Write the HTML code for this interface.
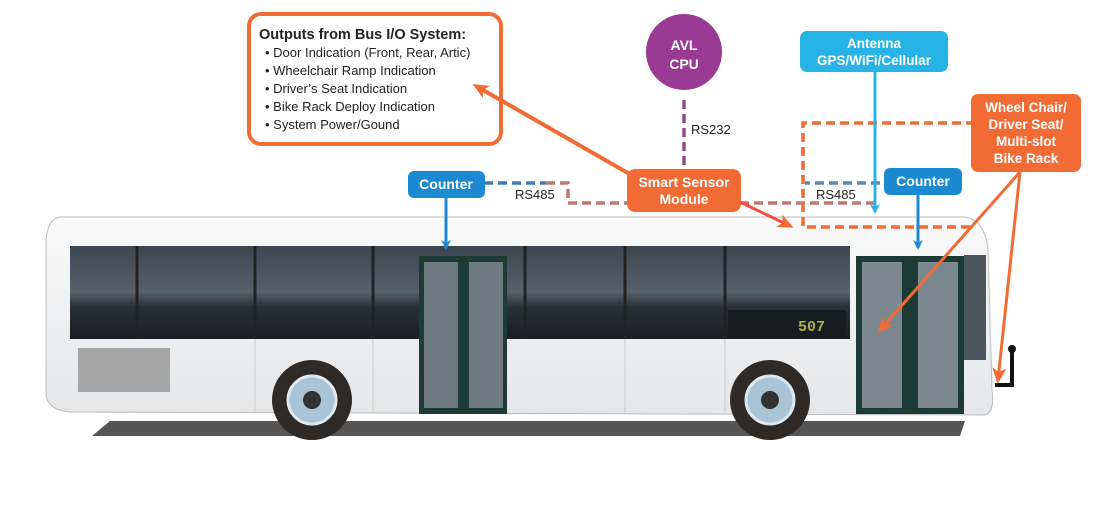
<!DOCTYPE html>
<html><head><meta charset="utf-8"><style>
html,body{margin:0;padding:0;background:#fff;}
svg{display:block;font-family:"Liberation Sans",sans-serif;}
</style></head><body>
<svg width="1097" height="518" viewBox="0 0 1097 518" xmlns="http://www.w3.org/2000/svg">
<defs>
<linearGradient id="win" x1="0" y1="0" x2="0" y2="1">
<stop offset="0" stop-color="#3c4650"/><stop offset="0.5" stop-color="#55616b"/><stop offset="0.65" stop-color="#2a3036"/><stop offset="1" stop-color="#1b1e22"/></linearGradient>
<linearGradient id="body" x1="0" y1="0" x2="0" y2="1">
<stop offset="0" stop-color="#fafafa"/><stop offset="1" stop-color="#e4e6e8"/></linearGradient>
<marker id="ab" markerWidth="10" markerHeight="10" refX="8" refY="5" orient="auto" markerUnits="userSpaceOnUse"><path d="M0,0 L10,5 L0,10 L3,5z" fill="#1b8ad0"/></marker>
<marker id="ac" markerWidth="10" markerHeight="10" refX="8" refY="5" orient="auto" markerUnits="userSpaceOnUse"><path d="M0,0 L10,5 L0,10 L3,5z" fill="#27b3e6"/></marker>
<marker id="aO" markerWidth="16" markerHeight="14" refX="12" refY="7" orient="auto" markerUnits="userSpaceOnUse"><path d="M0,0 L16,7 L0,14 L4,7z" fill="#f26b35"/></marker>
</defs>
<path d="M92,436 L110,421 L965,421 L960,436 Z" fill="#555"/>
<path d="M60,217 L965,217 Q985,220 988,250 L992,390 Q995,412 985,415 L70,412 Q48,410 46,395 L46,240 Q48,218 60,217Z" fill="url(#body)" stroke="#bbb"/>
<rect x="70" y="246" width="780" height="93" fill="url(#win)"/>
<g stroke="#222" stroke-width="3"><line x1="137" y1="246" x2="137" y2="339"/><line x1="255" y1="246" x2="255" y2="339"/><line x1="373" y1="246" x2="373" y2="339"/><line x1="525" y1="246" x2="525" y2="339"/><line x1="625" y1="246" x2="625" y2="339"/><line x1="725" y1="246" x2="725" y2="339"/></g>
<rect x="728" y="310" width="118" height="28" fill="#1a1d20"/>
<text x="798" y="331" font-family="Liberation Mono" font-size="15" font-weight="bold" fill="#a9b04a">507</text>
<rect x="78" y="348" width="92" height="44" fill="#777" opacity="0.6"/>
<g stroke="#ccc"><line x1="255" y1="339" x2="255" y2="412"/><line x1="373" y1="339" x2="373" y2="412"/><line x1="625" y1="339" x2="625" y2="412"/><line x1="725" y1="339" x2="725" y2="412"/></g>
<rect x="419" y="256" width="88" height="158" fill="#1d3a35"/>
<rect x="424" y="262" width="34" height="146" fill="#6d7a82"/><rect x="469" y="262" width="34" height="146" fill="#6d7a82"/>
<rect x="856" y="256" width="108" height="158" fill="#1d3a35"/>
<rect x="862" y="262" width="40" height="146" fill="#7b8890"/><rect x="918" y="262" width="40" height="146" fill="#7b8890"/>
<rect x="964" y="255" width="22" height="105" fill="#4b565e"/>
<circle cx="312" cy="400" r="40" fill="#2e2a28"/><circle cx="312" cy="400" r="24" fill="#a8c4d6" stroke="#dfe8ee" stroke-width="3"/><circle cx="312" cy="400" r="9" fill="#333"/>
<circle cx="770" cy="400" r="40" fill="#2e2a28"/><circle cx="770" cy="400" r="24" fill="#a8c4d6" stroke="#dfe8ee" stroke-width="3"/><circle cx="770" cy="400" r="9" fill="#333"/>
<path d="M1012,350 L1012,385 L995,385" stroke="#111" stroke-width="4" fill="none"/><circle cx="1012" cy="349" r="4" fill="#111"/>
<g fill="none" stroke-width="3.5" stroke-dasharray="9,5">
<path d="M484,183 L546,183" stroke="#3e7bb0"/>
<path d="M546,183 L568,183 L568,203 L630,203" stroke="#c07770"/>
<path d="M740,203 L880,203" stroke="#c07770"/>
<path d="M880,183 L805,183" stroke="#5f87b0"/>
<path d="M684,100 L684,168" stroke="#8f4e8a"/>
<path d="M975,123 L803,123 L803,227 L970,227" stroke="#ef6d33"/>
</g>
<rect x="249" y="14" width="252" height="130" rx="12" fill="#fff" stroke="#f26b35" stroke-width="4"/>
<text x="259" y="39" font-size="14.5" font-weight="bold" fill="#222">Outputs from Bus I/O System:</text>
<g font-size="13" fill="#222"><text x="265" y="57">• Door Indication (Front, Rear, Artic)</text><text x="265" y="75">• Wheelchair Ramp Indication</text><text x="265" y="93">• Driver’s Seat Indication</text><text x="265" y="111">• Bike Rack Deploy Indication</text><text x="265" y="129">• System Power/Gound</text></g>
<line x1="640" y1="180" x2="476" y2="86" stroke="#f26b35" stroke-width="4" marker-end="url(#aO)"/>
<line x1="736" y1="200" x2="790" y2="226" stroke="#f04e3e" stroke-width="3" marker-end="url(#aO)"/>
<line x1="1020" y1="172" x2="880" y2="330" stroke="#f26b35" stroke-width="3" marker-end="url(#aO)"/>
<line x1="1020" y1="172" x2="998" y2="380" stroke="#f26b35" stroke-width="3" marker-end="url(#aO)"/>
<line x1="446" y1="197" x2="446" y2="248" stroke="#1b8ad0" stroke-width="3" marker-end="url(#ab)"/>
<line x1="918" y1="195" x2="918" y2="248" stroke="#1b8ad0" stroke-width="3" marker-end="url(#ab)"/>
<line x1="875" y1="72" x2="875" y2="212" stroke="#27b3e6" stroke-width="3" marker-end="url(#ac)"/>
<circle cx="684" cy="52" r="38" fill="#9b3a95"/>
<text x="684" y="50" text-anchor="middle" font-size="14" font-weight="bold" fill="#fff">AVL</text>
<text x="684" y="69" text-anchor="middle" font-size="14" font-weight="bold" fill="#fff">CPU</text>
<text x="691" y="134" font-size="13" fill="#222">RS232</text>
<rect x="800" y="31" width="148" height="41" rx="7" fill="#27b3e6"/>
<text x="874" y="48" text-anchor="middle" font-size="13.5" font-weight="bold" fill="#fff">Antenna</text>
<text x="874" y="65" text-anchor="middle" font-size="13.5" font-weight="bold" fill="#fff">GPS/WiFi/Cellular</text>
<rect x="971" y="94" width="110" height="78" rx="7" fill="#f26b35"/>
<g font-size="13.5" font-weight="bold" fill="#fff" text-anchor="middle"><text x="1026" y="112">Wheel Chair/</text><text x="1026" y="129">Driver Seat/</text><text x="1026" y="146">Multi-slot</text><text x="1026" y="163">Bike Rack</text></g>
<rect x="627" y="169" width="114" height="43" rx="8" fill="#f26b35"/>
<text x="684" y="187" text-anchor="middle" font-size="14" font-weight="bold" fill="#fff">Smart Sensor</text>
<text x="684" y="204" text-anchor="middle" font-size="14" font-weight="bold" fill="#fff">Module</text>
<rect x="408" y="171" width="77" height="27" rx="6" fill="#1b8ad0"/>
<text x="446" y="189" text-anchor="middle" font-size="14" font-weight="bold" fill="#fff">Counter</text>
<rect x="884" y="168" width="78" height="27" rx="6" fill="#1b8ad0"/>
<text x="923" y="186" text-anchor="middle" font-size="14" font-weight="bold" fill="#fff">Counter</text>
<text x="515" y="199" font-size="13" fill="#222">RS485</text>
<text x="816" y="199" font-size="13" fill="#222">RS485</text>
</svg>
</body></html>
